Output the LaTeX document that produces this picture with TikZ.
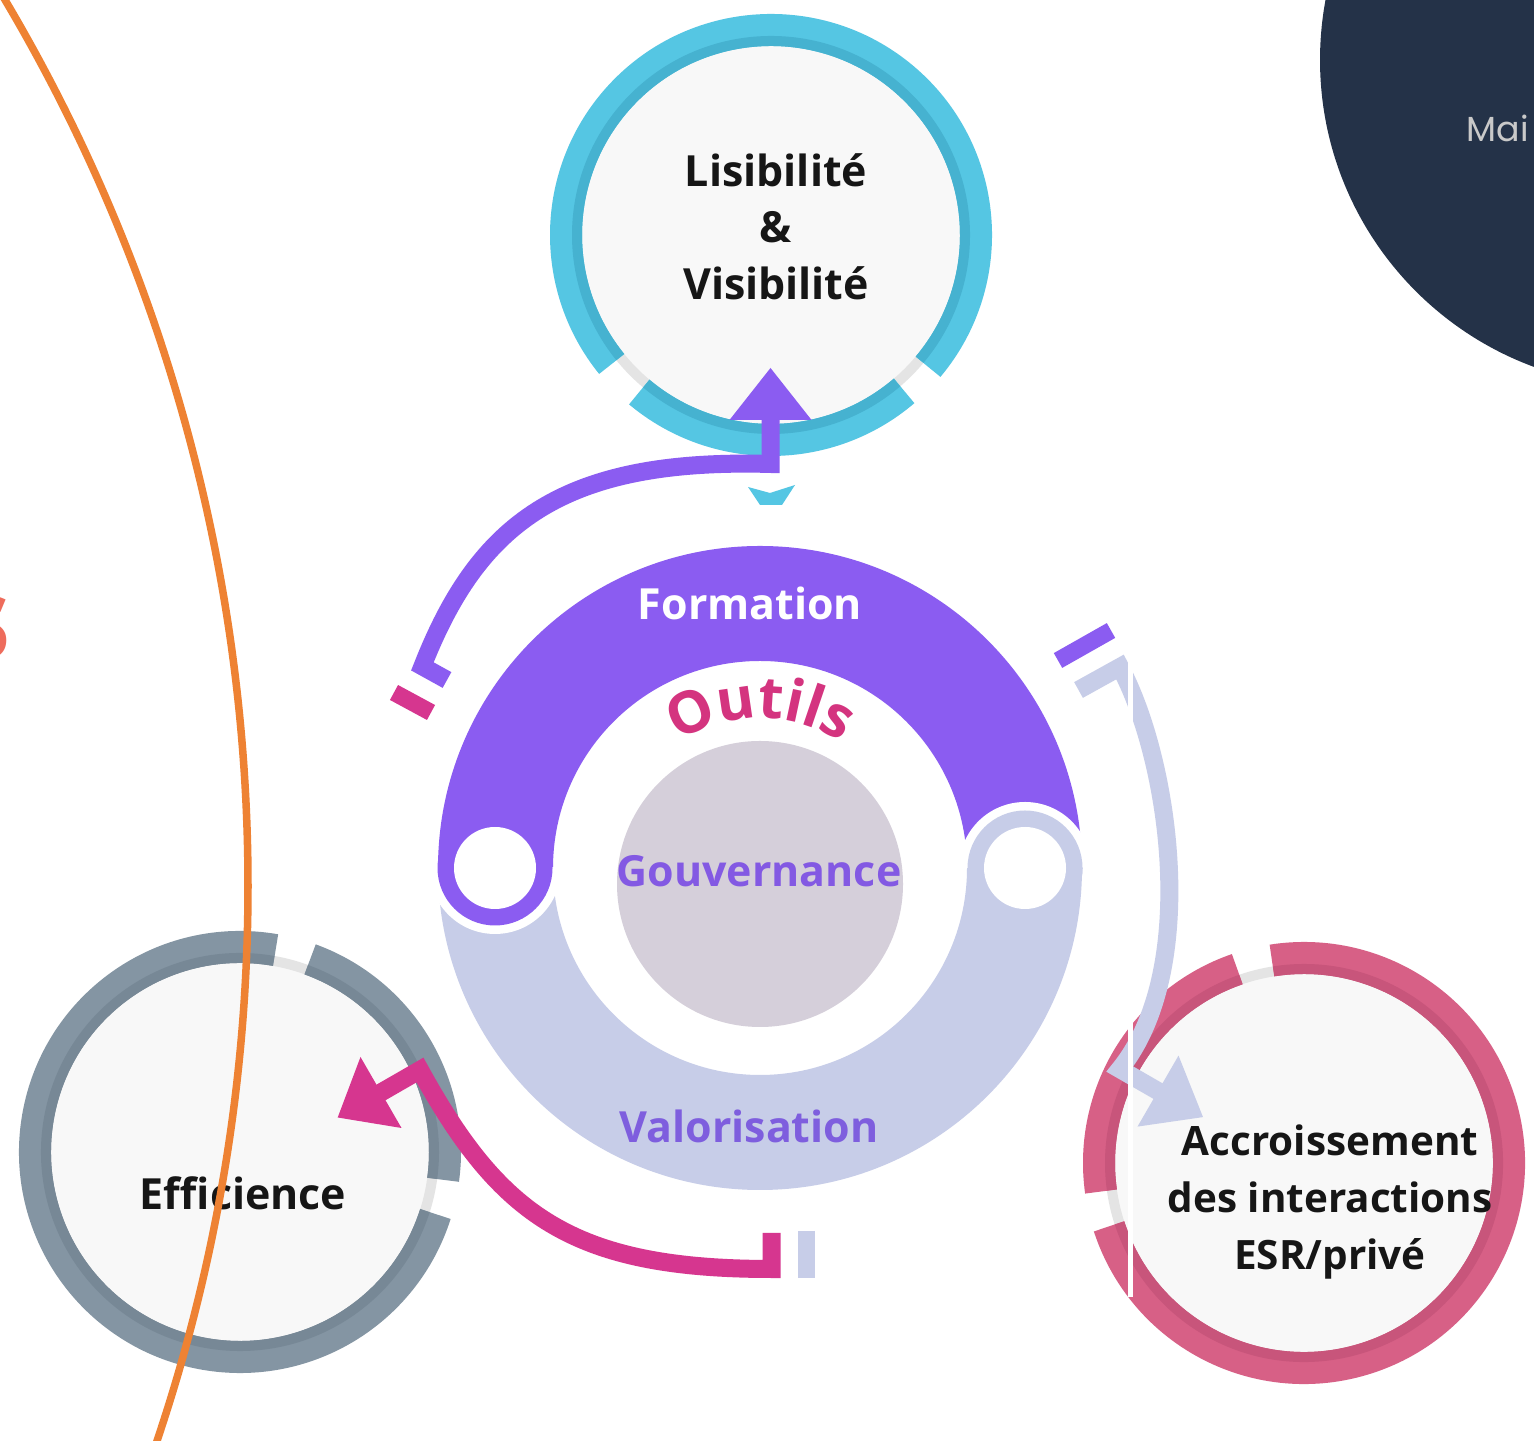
\documentclass[tikz,border=0pt]{standalone}
\usepackage{fontspec}
\setmainfont{Open Sans}
\newfontfamily\maifont{Poppins}
\usetikzlibrary{calc,decorations.text}
\definecolor{purA}{HTML}{8B5CF1}
\definecolor{lavA}{HTML}{C7CDE8}
\definecolor{pinkA}{HTML}{D6368F}
\definecolor{cyanR}{HTML}{55C6E3}
\definecolor{cyanD}{HTML}{46B2D0}
\definecolor{grayR}{HTML}{8495A3}
\definecolor{grayD}{HTML}{778896}
\definecolor{pinkR}{HTML}{D76086}
\definecolor{pinkD}{HTML}{C8557B}
\definecolor{gapC}{HTML}{E4E4E4}
\definecolor{bubbleC}{HTML}{F8F8F8}
\definecolor{coreC}{HTML}{D5CFDA}
\definecolor{gouvC}{HTML}{8359E3}
\definecolor{valoC}{HTML}{7E5EDE}
\definecolor{outilsC}{HTML}{D4347F}
\definecolor{navyC}{HTML}{243248}
\definecolor{maiC}{HTML}{C9C9C9}
\definecolor{orangeC}{HTML}{EE8233}
\definecolor{salmonC}{HTML}{EE6C5C}
\definecolor{textC}{HTML}{161616}
\newcommand\outilsfont{\bfseries\fontsize{16.5}{16.5}\selectfont}
\newcommand\ringpair[7]{%
  \fill[bubbleC] (#1) circle[radius=196];
  \draw[gapC, line width=0.1cm] (#1) circle[radius=194];
  \foreach \sa/\ea in {#4/#5,#6/#7}{
    \draw[#2, line width=0.32cm] ($(#1)+(\sa:205)$) arc[start angle=\sa, end angle=\ea, radius=205];
    \draw[#3, line width=0.1cm] ($(#1)+(\sa:194)$) arc[start angle=\sa, end angle=\ea, radius=194];
  }%
}
\begin{document}
\begin{tikzpicture}[x=0.01cm,y=0.01cm,
  lbl/.style={font=\bfseries\fontsize{12.2}{16.1}\selectfont, text=textC, align=center, inner sep=0pt},
  donutlbl/.style={font=\bfseries\fontsize{12.2}{16.1}\selectfont, inner sep=0pt, anchor=base},
  flow/.style={line width=0.18cm, line join=miter},
  tick/.style={line width=0.17cm}]
\useasboundingbox (0,0) rectangle (1534,1440);
\clip (0,0) rectangle (1534,1440);
\fill[white] (0,0) rectangle (1534,1440);

% dark corner disc
\fill[navyC] (1647,1380) circle[radius=327];
\node[font=\maifont\fontsize{9.9}{12}\selectfont, text=maiC, anchor=base west, inner sep=0pt] (mai) at (1466,1298) {Mai};

% outcome rings
\coordinate (lisC) at (771,1205);
\coordinate (effC) at (240,288);
\coordinate (accC) at (1304,277);
\ringpair{lisC}{cyanR}{cyanD}{320}{579}{230}{310.5}
\ringpair{effC}{grayR}{grayD}{80}{342.4}{-7.8}{70}
\ringpair{accC}{pinkR}{pinkD}{109}{188}{198}{459}
\fill[cyanR] (748,953) -- (770,947) -- (795,955) -- (782,935) -- (760,935) -- cycle;

% central donut
\coordinate (O) at (760,572);
\coordinate (CL) at (495,572);
\coordinate (CR) at (1025,572);
\fill[lavA] ($(O)+(0:322)$) arc[start angle=0, end angle=-180, radius=322]
   -- ($(O)+(180:207)$) arc[start angle=180, end angle=360, radius=207] -- cycle;
\fill[lavA] (CR) circle[radius=57.5];
\fill[purA] ($(O)+(0:322)$) arc[start angle=0, end angle=180, radius=322]
   -- ($(O)+(180:207)$) arc[start angle=180, end angle=0, radius=207] -- cycle;
\begin{scope}
  \clip (600,572) rectangle (1200,900);
  \fill[white] (CR) circle[radius=66];
\end{scope}
\fill[lavA] (CR) circle[radius=57.5];
\begin{scope}
  \clip (300,572) rectangle (900,300);
  \fill[white] (CL) circle[radius=66];
\end{scope}
\fill[purA] (CL) circle[radius=57.5];
\fill[white] (CL) circle[radius=41];
\fill[white] (CR) circle[radius=41];
\fill[coreC] (760,556) circle[radius=143];

% purple flow: donut -> Lisibilite
\draw[flow, purA] (447,760) -- (422.4,773.6) .. controls (478,915) and (560,982) .. (770.5,976) -- (770.5,1022);
\fill[purA] (729.5,1020) -- (811.5,1020) -- (770.5,1072) -- cycle;
\draw[tick, pinkA] (394,747.5) -- (431,727.5);

% lavender flow: donut -> Accroissement
\draw[flow, lavA] (1078.5,750) -- (1120,773) .. controls (1170,680) and (1200,470) .. (1119.8,370.9) -- (1159.7,347.9);
\fill[lavA] (1178.5,384.4) -- (1137.5,313.4) -- (1203,322.9) -- cycle;
\draw[tick, purA] (1058,779.5) -- (1111,809.5);

% pink flow: donut -> Efficience
\draw[flow, pinkA] (771.5,207) -- (771.5,171) .. controls (571.5,171) and (500,225) .. (420,370) -- (379,346.4);
\fill[pinkA] (360.5,383) -- (401.5,312) -- (337.7,322.5) -- cycle;
\draw[tick, lavA] (806,209) -- (806,162);

\fill[white] (1128,143) rectangle (1133,790);

% labels
\node[lbl] (lisT) at (776,1213.5) {Lisibilité\\\&\\Visibilité};
\node[lbl, anchor=base] (effT) at (243,230) {Efficience};
\node[lbl, font=\bfseries\fontsize{11.5}{16.1}\selectfont] (accT) at (1330,238) {Accroissement\\des interactions\\ESR/privé};
\node[donutlbl, text=white] (form) at (750,820) {Formation};
\node[donutlbl, text=gouvC] (gouv) at (759,553) {Gouvernance};
\node[donutlbl, text=valoC] (valo) at (749,297) {Valorisation};
\path[decorate, decoration={text along path, text align=center, text color=outilsC,
   text={|\outilsfont|Outils}}] ($(O)+(165:150)$) arc[start angle=165, end angle=15, radius=150];

% orange arc and cut title letter
\draw[orangeC, line width=0.075cm] ($(-1489,554)+(32:1737)$) arc[start angle=32, end angle=-20, radius=1737];
\node[font=\bfseries\fontsize{33}{33}\selectfont, text=salmonC, anchor=base east, inner sep=0pt] (titleS) at (12,780) {s};
\end{tikzpicture}
\end{document}
